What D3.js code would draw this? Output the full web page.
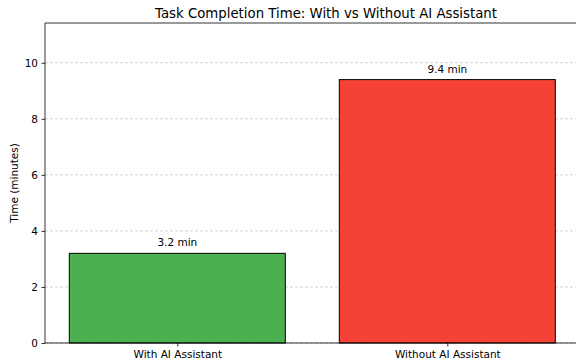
<!DOCTYPE html>
<html>
<head>
<meta charset="utf-8">
<script src="https://cdn.jsdelivr.net/npm/d3@7"></script>
<style>
  body { margin: 0; background: #fff; }
  svg text { font-family: "DejaVu Sans", sans-serif; fill: #000; }
</style>
</head>
<body>
<div id="chart"></div>
<script>
//Datos
const categories = ['With AI Assistant', 'Without AI Assistant'];
const values = [3.2, 9.4];
const valueLabels = ['3.2 min', '9.4 min'];
const yTicks = [0, 2, 4, 6, 8, 10];

const COLOR_GREEN = '#4CAF50',
    COLOR_RED = '#F44336';

let margin = {top: 23, left: 45, bottom: 19},
    fullW = 576, fullH = 362,
    height = fullH - margin.top - margin.bottom;

let svg = d3.select('#chart')
    .append('svg')
        .attr('width', fullW)
        .attr('height', fullH);

let g = svg.append('g')
    .attr('transform', 'translate(' + margin.left + ',' + margin.top + ')');

//Eje X: la figura original queda recortada por la derecha
let unit = 270;
let x = d3.scaleLinear()
    .domain([-0.49, 1.49])
    .range([0, 1.98 * unit]);

let y = d3.scaleLinear()
    .domain([0, 11.42])
    .range([height, 0]);

//Rejilla
g.selectAll('.grid')
    .data(yTicks)
    .enter()
    .append('line')
        .attr('x1', 0)
        .attr('x2', x(1.49))
        .attr('y1', d => y(d))
        .attr('y2', d => y(d))
        .attr('stroke', '#b0b0b0')
        .attr('stroke-opacity', 0.7)
        .attr('stroke-width', 0.8)
        .attr('stroke-dasharray', '3,2');

//Barras
g.selectAll('.bar')
    .data(values)
    .enter()
    .append('rect')
        .attr('x', (d, i) => x(i - 0.4))
        .attr('width', x(0.4) - x(-0.4))
        .attr('y', d => y(d))
        .attr('height', d => y(0) - y(d))
        .attr('fill', (d, i) => i == 0 ? COLOR_GREEN : COLOR_RED)
        .attr('stroke', '#000')
        .attr('stroke-width', 1);

//Etiquetas de valores
g.selectAll('.lbl')
    .data(values)
    .enter()
    .append('text')
        .attr('x', (d, i) => x(i))
        .attr('y', d => y(d) - 7)
        .attr('text-anchor', 'middle')
        .style('font-size', '10.5px')
        .text((d, i) => valueLabels[i]);

//Ejes
let yAxis = g.append('g')
    .call(d3.axisLeft(y).tickValues(yTicks).tickFormat(d3.format('d')).tickSize(3.5).tickPadding(3.5));
let xAxis = g.append('g')
    .attr('transform', 'translate(0,' + height + ')')
    .call(d3.axisBottom(x).tickValues([0, 1]).tickFormat((d) => categories[d]).tickSize(3.5).tickPadding(4.5));

[yAxis, xAxis].forEach(function(a) {
    a.selectAll('.domain').remove();
    a.selectAll('text').style('font-size', '10.5px').attr('fill', '#000');
    a.selectAll('line').attr('stroke', '#000').attr('stroke-width', 0.8);
});

//Marco
g.append('line').attr('x1', 0).attr('x2', 0).attr('y1', 0).attr('y2', height)
    .attr('stroke', '#000').attr('stroke-width', 0.8);
g.append('line').attr('x1', 0).attr('x2', x(1.49)).attr('y1', 0).attr('y2', 0)
    .attr('stroke', '#000').attr('stroke-width', 0.8);
g.append('line').attr('x1', 0).attr('x2', x(1.49)).attr('y1', height).attr('y2', height)
    .attr('stroke', '#000').attr('stroke-width', 0.8);

//Títulos
svg.append('text')
    .attr('x', 326)
    .attr('y', 18)
    .attr('text-anchor', 'middle')
    .style('font-size', '13.3px')
    .text('Task Completion Time: With vs Without AI Assistant');

svg.append('text')
    .attr('transform', 'translate(18,' + (margin.top + height / 2) + ') rotate(-90)')
    .attr('text-anchor', 'middle')
    .style('font-size', '10.5px')
    .text('Time (minutes)');
</script>
</body>
</html>
